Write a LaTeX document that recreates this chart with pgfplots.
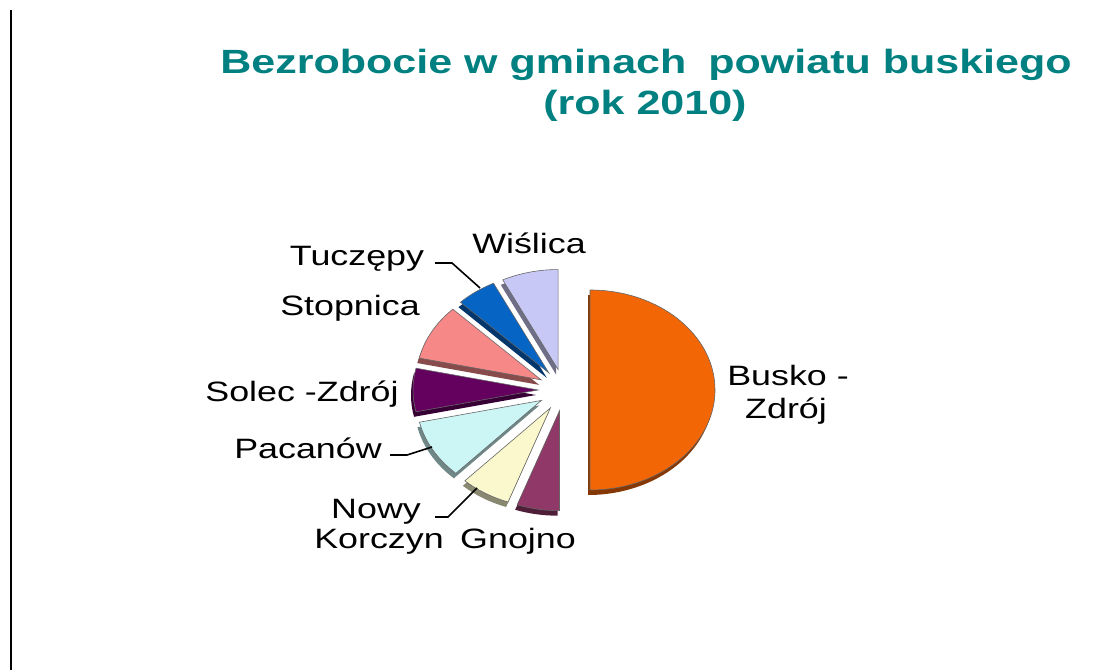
\documentclass[border=0pt]{standalone}
\usepackage{fontspec}
\setmainfont{Liberation Sans}
\newfontfamily\labfont[FakeStretch=1.28]{Liberation Sans}
\usepackage{pgfplots}
\usepackage{pgfplotstable}
\pgfplotsset{compat=1.18}

\definecolor{c0}{RGB}{242,102,6}
\definecolor{c1}{RGB}{144,56,104}
\definecolor{c2}{RGB}{250,248,204}
\definecolor{c3}{RGB}{204,246,246}
\definecolor{c4}{RGB}{100,0,94}
\definecolor{c5}{RGB}{246,136,136}
\definecolor{c6}{RGB}{6,100,196}
\definecolor{c7}{RGB}{200,200,246}
\definecolor{titlecol}{RGB}{0,128,128}

% share of unemployed, clockwise from 12 o'clock
\pgfplotstableread{
idx value
0 50.0
1 5.5
2 6.5
3 9.5
4 7.0
5 9.0
6 5.2
7 7.3
}\piedata
\pgfplotstablecreatecol[create col/expr accum={\pgfmathaccuma + \thisrow{value}}{0}]{cum}\piedata

\begin{document}
\begin{tikzpicture}
\begin{axis}[x=0.5pt, y=0.5pt, xmin=0, xmax=1107, ymin=0, ymax=670,
  hide axis, clip=false, scale only axis]
\path (axis cs:0,0) rectangle (axis cs:1107,670);
\addplot[black, line width=1pt] coordinates {(11,0) (11,660)};

% depth layer
\pgfplotsinvokeforeach{0,...,7}{%
  \pgfplotstablegetelem{#1}{value}\of\piedata \let\val\pgfplotsretval
  \pgfplotstablegetelem{#1}{cum}\of\piedata \let\cum\pgfplotsretval
  \pgfmathsetmacro\aend{90-3.6*\cum}
  \pgfmathsetmacro\astart{\aend+3.6*\val}
  \pgfmathsetmacro\amid{(\astart+\aend)/2}
  \pgfmathsetmacro\cx{564+26*cos(\amid)-2}
  \pgfmathsetmacro\cy{280+21*sin(\amid)-5}
  \edef\temp{\noexpand\fill[c#1!55!black] (axis cs:\cx,\cy) -- ++(\astart:62.5pt and 50pt) arc[start angle=\astart, end angle=\aend, x radius=62.5pt, y radius=50pt] -- cycle;}
  \temp
}
% top layer
\pgfplotsinvokeforeach{0,...,7}{%
  \pgfplotstablegetelem{#1}{value}\of\piedata \let\val\pgfplotsretval
  \pgfplotstablegetelem{#1}{cum}\of\piedata \let\cum\pgfplotsretval
  \pgfmathsetmacro\aend{90-3.6*\cum}
  \pgfmathsetmacro\astart{\aend+3.6*\val}
  \pgfmathsetmacro\amid{(\astart+\aend)/2}
  \pgfmathsetmacro\cx{564+26*cos(\amid)}
  \pgfmathsetmacro\cy{280+21*sin(\amid)}
  \edef\temp{\noexpand\filldraw[fill=c#1, draw=black!60, line width=0.3pt] (axis cs:\cx,\cy) -- ++(\astart:62.5pt and 50pt) arc[start angle=\astart, end angle=\aend, x radius=62.5pt, y radius=50pt] -- cycle;}
  \temp
}

% leader lines
\addplot[black, line width=0.8pt] coordinates {(435,407) (452,407) (480,382)};
\addplot[black, line width=0.8pt] coordinates {(390,215) (407,215) (432,223)};
\addplot[black, line width=0.8pt] coordinates {(435,153) (448,153) (477,182)};

% title
\node[anchor=base, text=titlecol, font=\labfont\bfseries\fontsize{16.8}{20}\selectfont, inner sep=0pt]
  at (axis cs:646,596) {Bezrobocie w gminach\hspace{0.3em} powiatu buskiego};
\node[anchor=base, text=titlecol, font=\labfont\bfseries\fontsize{16.8}{20}\selectfont, inner sep=0pt]
  at (axis cs:645,555) {(rok 2010)};

% labels
\tikzset{lab/.style={anchor=base, inner sep=0pt, font=\labfont\fontsize{14}{16}\selectfont}}
\node[lab] at (axis cs:529,416) {Wiślica};
\node[lab] at (axis cs:357,405) {Tuczępy};
\node[lab] at (axis cs:350,355) {Stopnica};
\node[lab] at (axis cs:302,269) {Solec -Zdrój};
\node[lab] at (axis cs:308,212) {Pacanów};
\node[lab] at (axis cs:376,152) {Nowy};
\node[lab] at (axis cs:379,122) {Korczyn};
\node[lab] at (axis cs:518,122) {Gnojno};
\node[lab] at (axis cs:788,285) {Busko -};
\node[lab] at (axis cs:786,252) {Zdrój};
\end{axis}
\end{tikzpicture}
\end{document}
